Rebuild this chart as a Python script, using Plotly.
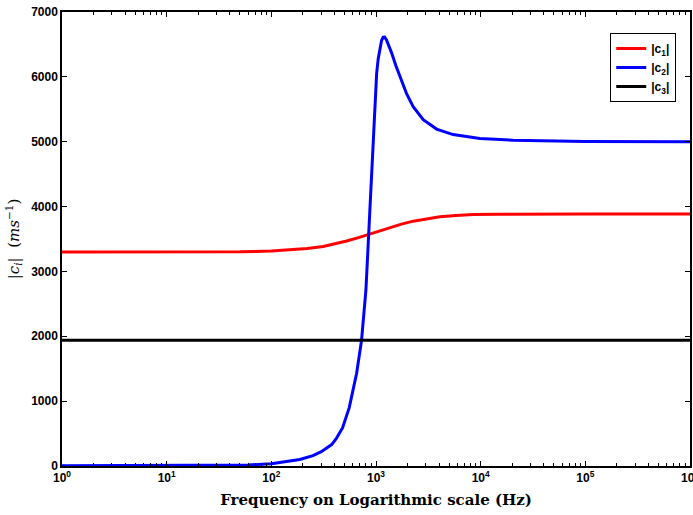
import plotly.graph_objects as go

# |c1|
freq_c1 = [1, 30, 50, 100, 151, 220, 313, 400, 524, 680, 842, 1080, 1358, 1750, 2266, 3000, 4074, 5800,
           8480, 15000, 27400, 100000, 1000000]
c1 = [3300, 3301, 3303, 3315, 3330, 3352, 3385, 3420, 3470, 3522, 3570, 3624, 3675, 3730, 3775, 3812, 3843, 3864,
      3876, 3882, 3884, 3884, 3884]

# |c2|
freq_c2 = [1, 10, 30, 60, 100, 150, 187, 250, 300, 377, 420, 480, 555, 653, 728, 801, 846, 894, 940, 980,
           1014, 1050, 1090, 1130, 1172, 1210, 1260, 1330, 1409, 1550, 1691, 1960, 2266, 2825, 3793, 5460,
           9820, 20400, 53100, 100000, 1000000]
c2 = [5, 5, 8, 15, 35, 70, 100, 160, 220, 330, 430, 590, 900, 1430, 1940, 2710, 3480, 4300, 5150, 5700,
      6050, 6280, 6450, 6560, 6610, 6612, 6570, 6480, 6370, 6170, 6000, 5740, 5540, 5340, 5195, 5110,
      5050, 5022, 5010, 5005, 5000]

# |c3|
freq_c3 = [1, 1000000]
c3 = [1940, 1940]

x_tickvals = [1, 10, 100, 1000, 10000, 100000, 1000000]
x_ticktext = ["10<sup>0</sup>", "10<sup>1</sup>", "10<sup>2</sup>", "10<sup>3</sup>",
              "10<sup>4</sup>", "10<sup>5</sup>", "10<sup>6</sup>"]
x_minor = [m * 10 ** d for d in range(6) for m in range(2, 10)]
y_tickvals = [0, 1000, 2000, 3000, 4000, 5000, 6000, 7000]

fig = go.Figure()
fig.add_trace(go.Scatter(x=freq_c1, y=c1, mode="lines", name="|c<sub>1</sub>|",
                         line=dict(color="#ff0000", width=3)))
fig.add_trace(go.Scatter(x=freq_c2, y=c2, mode="lines", name="|c<sub>2</sub>|",
                         line=dict(color="#0000ff", width=3)))
fig.add_trace(go.Scatter(x=freq_c3, y=c3, mode="lines", name="|c<sub>3</sub>|",
                         line=dict(color="#000000", width=3)))

tickfont = dict(family="Liberation Sans, Arial", size=12, color="black", weight="bold")

fig.update_layout(
    width=693, height=515,
    margin=dict(l=62, r=3, t=12, b=49, autoexpand=False),
    paper_bgcolor="white", plot_bgcolor="white",
    showlegend=True,
    legend=dict(x=0.873, y=0.954, xanchor="left", yanchor="top",
                bgcolor="white", bordercolor="black", borderwidth=1,
                font=dict(family="Liberation Sans, Arial", size=12, color="black", weight="bold"),
                tracegroupgap=2, itemwidth=30),
    xaxis=dict(type="log", range=[0, 6], tickvals=x_tickvals, ticktext=x_ticktext,
               ticks="inside", ticklen=5, tickwidth=1, tickcolor="black",
               showline=True, linecolor="black", linewidth=1.5, mirror="ticks",
               showgrid=False, zeroline=False, tickfont=tickfont, ticklabeloverflow="allow",
               automargin=False,
               minor=dict(tickvals=x_minor, ticks="inside", ticklen=3, tickwidth=1,
                          tickcolor="black", showgrid=False),
               title=dict(text="Frequency on Logarithmic scale (Hz)", standoff=10,
                          font=dict(family="DejaVu Serif", size=15, color="black", weight="bold"))),
    yaxis=dict(range=[0, 7000], tickvals=y_tickvals,
               ticks="inside", ticklen=5, tickwidth=1, tickcolor="black",
               showline=True, linecolor="black", linewidth=1.5, mirror="ticks",
               showgrid=False, zeroline=False, tickfont=tickfont, automargin=False,
               title=dict(text="|<i>c<sub>i</sub></i>|  (<i>ms</i><sup>−1</sup>)", standoff=8,
                          font=dict(family="DejaVu Serif", size=15, color="black"))),
)

fig.write_html("out.html")
